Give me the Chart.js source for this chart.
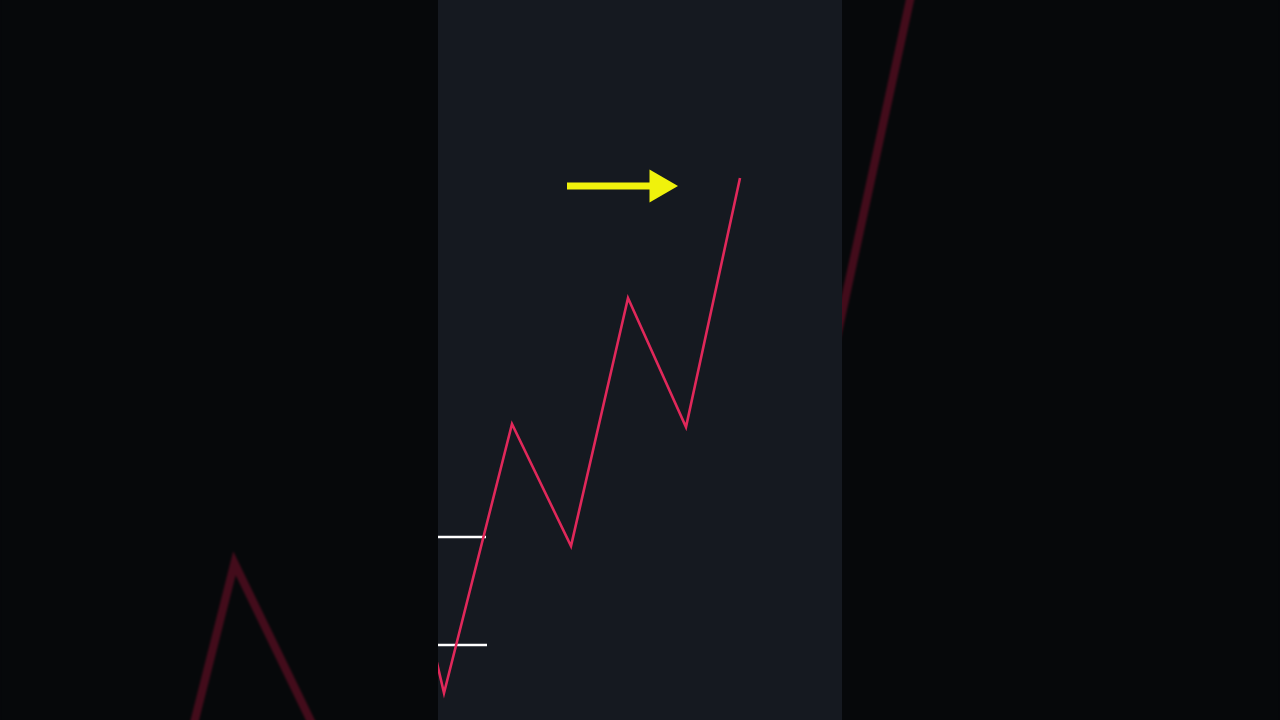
<!DOCTYPE html>
<html>
<head>
<meta charset="utf-8">
<script src="https://cdn.jsdelivr.net/npm/chart.js@4/dist/chart.umd.min.js"></script>
<style>
  html, body { margin: 0; padding: 0; width: 1280px; height: 720px; overflow: hidden; background: #06070a; }
  #bgWrap { position: absolute; left: 0; top: -780px; width: 1280px; height: 2281px; filter: brightness(0.3) blur(1px); }
  #panel { position: absolute; left: 438px; top: 0; width: 404px; height: 720px; background: #151920; }
</style>
</head>
<body>
<div id="bgWrap"><canvas id="bgChart"></canvas></div>
<div id="panel"><canvas id="mainChart"></canvas></div>
<script>
// 가격 흐름 (시간축: 봉 단위, 가격: 임의 단위)
const swingTimes  = [-2, 1.5, 18.5, 33.25, 47.5, 62, 75.5];
const swingPrices = [21.75, 6.75, 74, 43.5, 105.5, 73.25, 135.5];

// 왼쪽 수평 레벨 두 개
const levelPrices = [45.75, 18.75];
const levelEnds   = [12, 12.25];

// 화살표 (시작, 끝, 높이)
const arrowTimes = [32.25, 55.25];
const arrowPrice = 133.5;

// 축 범위
const timeRange  = [0, 101];
const priceRange = [0, 180];

function buildConfig(scale) {
    const datasets = [];

    datasets.push({
        data: swingTimes.map((t, i) => ({ x: t, y: swingPrices[i] })),
        borderColor: '#e0285a',
        borderWidth: 2.6 * scale,
        pointRadius: 0,
        tension: 0,
        borderJoinStyle: 'miter'
    });

    levelPrices.forEach((p, i) => {
        datasets.push({
            data: [{ x: timeRange[0], y: p }, { x: levelEnds[i], y: p }],
            borderColor: '#ffffff',
            borderWidth: 2.6 * scale,
            pointRadius: 0
        });
    });

    // 화살표 몸통 + 머리 (삼각형 포인트)
    datasets.push({
        data: arrowTimes.map(t => ({ x: t, y: arrowPrice })),
        borderColor: '#f0f20c',
        backgroundColor: '#f0f20c',
        borderWidth: 7 * scale,
        pointStyle: 'triangle',
        pointRotation: 90,
        pointRadius: [0, 19 * scale],
        pointBorderWidth: 0,
        pointHoverRadius: 0
    });

    return {
        type: 'line',
        data: { datasets: datasets },
        options: {
            animation: false,
            responsive: true,
            maintainAspectRatio: false,
            events: [],
            layout: { padding: 0, autoPadding: false },
            plugins: { legend: { display: false }, tooltip: { enabled: false } },
            scales: {
                x: { type: 'linear', min: timeRange[0], max: timeRange[1], display: false },
                y: { type: 'linear', min: priceRange[0], max: priceRange[1], display: false }
            }
        }
    };
}

document.addEventListener("DOMContentLoaded", () => {
    // 배경: 같은 차트를 확대해서 어둡게
    const bgCfg = buildConfig(1280 / 404);
    bgCfg.plugins = [{
        id: 'panelBg',
        beforeDraw(chart) {
            const ctx = chart.ctx;
            ctx.save();
            ctx.fillStyle = '#151920';
            ctx.fillRect(0, 0, chart.width, chart.height);
            ctx.restore();
        }
    }];
    new Chart(document.getElementById('bgChart'), bgCfg);

    new Chart(document.getElementById('mainChart'), buildConfig(1));
});
</script>
</body>
</html>
